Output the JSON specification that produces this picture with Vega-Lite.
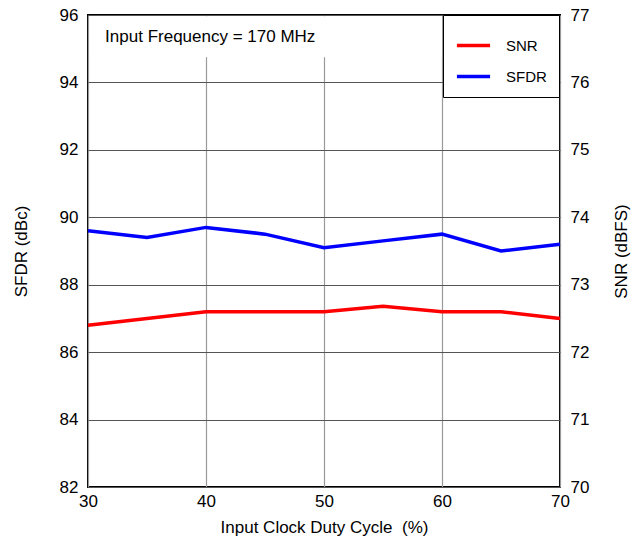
{
  "$schema": "https://vega.github.io/schema/vega-lite/v6.json",
  "width": 472,
  "height": 472,
  "autosize": {"type": "none"},
  "padding": {"left": 88, "top": 15, "right": 79, "bottom": 55},
  "background": "white",
  "config": {
    "font": "Liberation Sans",
    "view": {"stroke": "black", "strokeWidth": 2},
    "axis": {"domain": false, "ticks": false, "labelFontSize": 17, "titleFontSize": 17, "titleFontWeight": "normal", "labelColor": "black", "titleColor": "black", "labelFont": "Liberation Sans", "titleFont": "Liberation Sans", "labelFlush": false},
    "legend": {"labelFont": "Liberation Sans"}
  },
  "datasets": {
    "series": [
      {"x": 30, "series": "SFDR", "value": 89.6},
      {"x": 35, "series": "SFDR", "value": 89.4},
      {"x": 40, "series": "SFDR", "value": 89.7},
      {"x": 45, "series": "SFDR", "value": 89.5},
      {"x": 50, "series": "SFDR", "value": 89.1},
      {"x": 55, "series": "SFDR", "value": 89.3},
      {"x": 60, "series": "SFDR", "value": 89.5},
      {"x": 65, "series": "SFDR", "value": 89.0},
      {"x": 70, "series": "SFDR", "value": 89.2},
      {"x": 30, "series": "SNR", "value": 72.4},
      {"x": 35, "series": "SNR", "value": 72.5},
      {"x": 40, "series": "SNR", "value": 72.6},
      {"x": 45, "series": "SNR", "value": 72.6},
      {"x": 50, "series": "SNR", "value": 72.6},
      {"x": 55, "series": "SNR", "value": 72.68},
      {"x": 60, "series": "SNR", "value": 72.6},
      {"x": 65, "series": "SNR", "value": 72.6},
      {"x": 70, "series": "SNR", "value": 72.5}
    ]
  },
  "layer": [
    {
      "layer": [
        {
          "data": {"values": [{"x0": 30.15, "x1": 60, "y0": 94.75, "y1": 95.96}]},
          "mark": {"type": "rect", "fill": "white"},
          "encoding": {
            "x": {"field": "x0", "type": "quantitative", "scale": {"domain": [30, 70], "nice": false, "zero": false},
                  "axis": {"values": [30, 40, 50, 60, 70], "grid": true, "gridColor": "#999999", "gridWidth": 1.2, "labelPadding": 6, "title": "Input Clock Duty Cycle \u00a0(%)", "titlePadding": 10}},
            "x2": {"field": "x1"},
            "y": {"field": "y0", "type": "quantitative", "scale": {"domain": [82, 96], "nice": false, "zero": false},
                  "axis": {"values": [82, 84, 86, 88, 90, 92, 94, 96], "grid": true, "gridColor": "#555555", "gridWidth": 1.2, "labelPadding": 10, "title": "SFDR (dBc)", "titlePadding": 29}},
            "y2": {"field": "y1"}
          }
        },
        {
          "data": {"values": [{"x": 31.45, "y": 95.35, "label": "Input Frequency = 170 MHz"}]},
          "mark": {"type": "text", "align": "left", "baseline": "middle", "fontSize": 17, "font": "Liberation Sans", "color": "black"},
          "encoding": {
            "x": {"field": "x", "type": "quantitative"},
            "y": {"field": "y", "type": "quantitative"},
            "text": {"field": "label"}
          }
        },
        {
          "data": {"name": "series"},
          "transform": [{"filter": "datum.series === 'SFDR'"}],
          "mark": {"type": "line", "strokeWidth": 3.5},
          "encoding": {
            "x": {"field": "x", "type": "quantitative"},
            "y": {"field": "value", "type": "quantitative"},
            "color": {"field": "series", "type": "nominal",
                      "scale": {"domain": ["SNR", "SFDR"], "range": ["#ff0000", "#0000ff"]},
                      "legend": {"title": null, "orient": "none", "legendX": 355, "legendY": 0, "strokeColor": "black", "fillColor": "white", "padding": 12, "rowPadding": 4, "symbolType": "stroke", "symbolSize": 1100, "symbolStrokeWidth": 3.5, "labelFontSize": 15, "labelOffset": 14, "labelColor": "black"}}
          }
        }
      ]
    },
    {
      "data": {"name": "series"},
      "transform": [{"filter": "datum.series === 'SNR'"}],
      "mark": {"type": "line", "strokeWidth": 3.5},
      "encoding": {
        "x": {"field": "x", "type": "quantitative"},
        "y": {"field": "value", "type": "quantitative", "scale": {"domain": [70, 77], "nice": false, "zero": false},
              "axis": {"orient": "right", "values": [70, 71, 72, 73, 74, 75, 76, 77], "grid": false, "labelPadding": 10, "title": "SNR (dBFS)", "titleAngle": 270, "titleBaseline": "bottom", "titlePadding": 42}},
        "color": {"field": "series", "type": "nominal"}
      }
    }
  ],
  "resolve": {"scale": {"y": "independent"}, "axis": {"y": "independent"}}
}
